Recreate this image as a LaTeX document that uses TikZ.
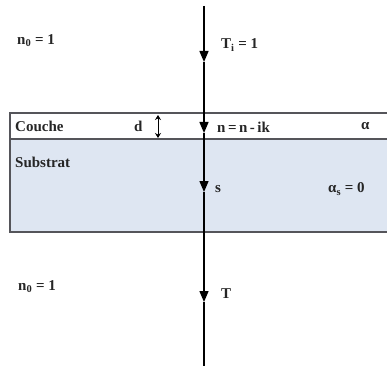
\documentclass[tikz,border=0pt]{standalone}
\usepackage{fontspec}
\setmainfont{Liberation Serif}
\usetikzlibrary{arrows.meta}

\begin{document}
\begin{tikzpicture}[x=1pt,y=-1pt,
  lbl/.style={anchor=west,inner sep=0pt,text=black!85,
    font=\fontsize{15}{17}\selectfont\bfseries},
  ray/.style={line width=1.4pt,-{Triangle[width=9pt,length=11pt]}},
  edge/.style={line width=1.8pt,draw=cEdge}]

% colours
\definecolor{cSub}{RGB}{222,230,242}
\definecolor{cEdge}{RGB}{85,85,90}

\useasboundingbox (0,0) rectangle (387,366);

% substrate and layer
\fill[cSub] (10,139) rectangle (390,232);
\draw[edge] (390,113) -- (10,113) -- (10,232) -- (390,232);
\draw[edge] (10,139) -- (390,139);

% thickness of the layer
\coordinate (dtop) at (158,115);
\coordinate (dbot) at (158,138);
\draw[line width=0.9pt,{Stealth[length=5pt,width=6pt]}-{Stealth[length=5pt,width=6pt]}]
  (dtop) -- (dbot);

% beam through the sample
\coordinate (src) at (204,6);
\coordinate (tipA) at (204,62);
\coordinate (tipB) at (204,133);
\coordinate (tipC) at (204,192);
\coordinate (tipD) at (204,302);
\coordinate (sink) at (204,366);
\draw[ray] (src) -- (tipA);
\draw[ray] (tipA) -- (tipB);
\draw[ray] (tipB) -- (tipC);
\draw[ray] (tipC) -- (tipD);
\draw[line width=1.4pt] (tipD) -- (sink);

% labels
\node[lbl] (nzeroA) at (17,41) {n\textsubscript{0}\ =\ 1};
\node[lbl] (trans) at (221,45) {T\textsubscript{i}\ =\ 1};
\node[lbl] (couche) at (15,126) {Couche};
\node[lbl] (thick) at (134,126) {d};
\node[lbl] (index) at (217,127) {n\,=\,n\,-\,ik};
\node[lbl] (alpha) at (361,126) {α};
\node[lbl] (subst) at (15,162) {Substrat};
\node[lbl] (sidx) at (215,189) {s};
\node[lbl] (alphas) at (328,189) {α\textsubscript{s}\ =\ 0};
\node[lbl] (nzeroB) at (18,287) {n\textsubscript{0}\ =\ 1};
\node[lbl] (tout) at (221,294) {T};

\end{tikzpicture}
\end{document}
